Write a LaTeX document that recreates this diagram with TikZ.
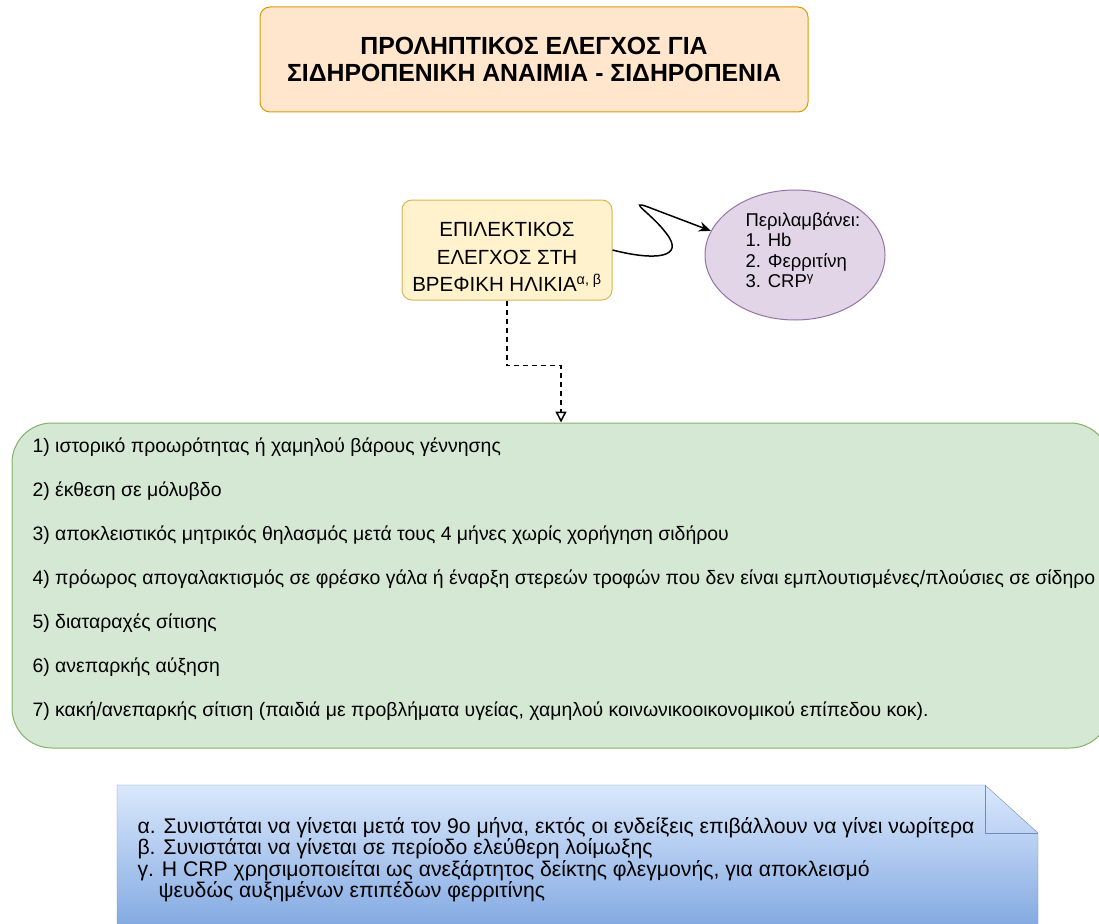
\documentclass[tikz,border=0pt]{standalone}
\usepackage{fontspec}
\setmainfont{Liberation Sans}
\usetikzlibrary{
  arrows.meta,
  shapes.geometric,
  positioning,
  calc
}
\definecolor{titlefill}{HTML}{FFE6CC}
\definecolor{titleline}{HTML}{D79B00}
\definecolor{selfill}{HTML}{FFF2CC}
\definecolor{selline}{HTML}{D6B656}
\definecolor{incfill}{HTML}{E1D5E7}
\definecolor{incline}{HTML}{9673A6}
\definecolor{listfill}{HTML}{D5E8D4}
\definecolor{listline}{HTML}{82B366}
\definecolor{notetop}{HTML}{DAE8FC}
\definecolor{notebot}{HTML}{7EA6E0}
\definecolor{noteline}{HTML}{6C8EBF}

\begin{document}
\begin{tikzpicture}[x=1pt, y=-1pt,
  box/.style={draw, line width=1pt, rounded corners=10pt, align=center}]
  \useasboundingbox (0,0) rectangle (1099,923);

  % title
  \node[box, draw=titleline, fill=titlefill, minimum width=548pt, minimum height=105pt,
    font=\fontsize{24.8}{27}\selectfont\bfseries] (title) at (534,59.5)
    {ΠΡΟΛΗΠΤΙΚΟΣ ΕΛΕΓΧΟΣ ΓΙΑ\\ΣΙΔΗΡΟΠΕΝΙΚΗ ΑΝΑΙΜΙΑ - ΣΙΔΗΡΟΠΕΝΙΑ};

  % selective screening
  \node[box, draw=selline, fill=selfill, minimum width=210pt, minimum height=100pt] (sel) at (507,250) {};
  \node[align=center, font=\fontsize{20.5}{27.5}\selectfont] (seltext) at (507,257)
    {ΕΠΙΛΕΚΤΙΚΟΣ\\ΕΛΕΓΧΟΣ ΣΤΗ\\ΒΡΕΦΙΚΗ ΗΛΙΚΙΑ\textsuperscript{α, β}};

  \node[ellipse, draw=incline, fill=incfill, line width=1pt, minimum width=180pt,
    minimum height=130pt] (inc) at (795,255) {};
  \node[align=left, anchor=west, font=\fontsize{18.5}{20.5}\selectfont] (inctext) at (742,250)
    {Περιλαμβάνει:\\1. Hb\\2. Φερριτίνη\\3. CRP\textsuperscript{γ}};

  \draw[line width=1.5pt, -{Stealth[length=12pt, width=10pt]}]
    (sel.east) .. controls (655,261) and (686,258) .. (666,233)
    .. controls (652,214) and (626,199) .. (648,207) -- (inc.164);

  % risk factors
  \node[box, draw=listline, fill=listfill, rounded corners=40pt, minimum width=1098pt,
    minimum height=325pt] (list) at (561,585.5) {};
  \node[align=left, anchor=west, font=\fontsize{19.45}{44}\selectfont] (items) at (29,579.5)
    {1) ιστορικό προωρότητας ή χαμηλού βάρους γέννησης\\
     2) έκθεση σε μόλυβδο\\
     3) αποκλειστικός μητρικός θηλασμός μετά τους 4 μήνες χωρίς χορήγηση σιδήρου\\
     4) πρόωρος απογαλακτισμός σε φρέσκο γάλα ή έναρξη στερεών τροφών που δεν είναι εμπλουτισμένες/πλούσιες σε σίδηρο\\
     5) διαταραχές σίτισης\\
     6) ανεπαρκής αύξηση\\
     7) κακή/ανεπαρκής σίτιση (παιδιά με προβλήματα υγείας, χαμηλού κοινωνικοοικονομικού επίπεδου κοκ).};

  \draw[line width=1.5pt, dash pattern=on 5pt off 4pt, -{Triangle[open, length=11pt, width=11pt]}]
    (sel.south) -- ++(0,65) -| (list.north);

  % footnotes
  \shade[top color=notetop, bottom color=notebot, draw=noteline]
    (117,785) -- (985,785) -- (1038,833) -- (1038,935) -- (117,935) -- cycle;
  \draw[noteline] (985,785) -- (985,833) -- (1038,833);
  \node[align=left, anchor=north west, font=\fontsize{21.2}{19.3}\selectfont] (notes) at (134,814)
    {α. Συνιστάται να γίνεται μετά τον 9ο μήνα, εκτός οι ενδείξεις επιβάλλουν να γίνει νωρίτερα\\
     β. Συνιστάται να γίνεται σε περίοδο ελεύθερη λοίμωξης\\
     γ. Η CRP χρησιμοποιείται ως ανεξάρτητος δείκτης φλεγμονής, για αποκλεισμό\\
     \hspace*{21pt}ψευδώς αυξημένων επιπέδων φερριτίνης};
\end{tikzpicture}
\end{document}
